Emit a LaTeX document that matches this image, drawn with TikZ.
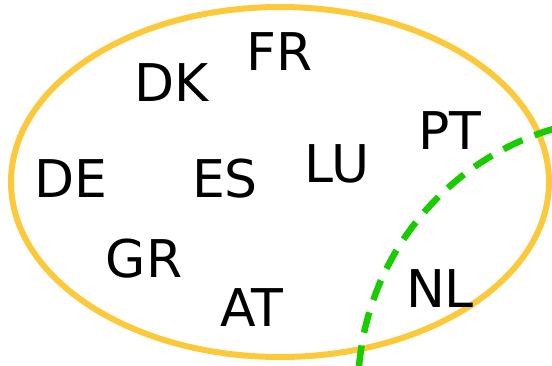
\documentclass[tikz,border=0pt]{standalone}
\usepackage{fontspec}
\setmainfont{DejaVu Sans}
\definecolor{ellcol}{HTML}{FBC93A}
\definecolor{grn}{HTML}{19CC00}
\begin{document}
\begin{tikzpicture}[x=1pt,y=-1pt,
  lbl/.style={anchor=base,inner sep=0pt,font=\fontsize{52}{62}\selectfont}]
\useasboundingbox (0,0) rectangle (552,365);
\begin{scope}
\clip (0,0) rectangle (552,365);
\draw[ellcol,line width=6pt] (280,182) ellipse [x radius=269, y radius=175];
\draw[grn,line width=6.5pt,dash pattern=on 21pt off 13pt] (630,390) ++(185:272) arc[start angle=185,end angle=272,radius=272];
\end{scope}
\node[lbl] (fr) at (280,70) {FR};
\node[lbl] (dk) at (172,101) {DK};
\node[lbl] (pt) at (450,149) {PT};
\node[lbl] (de) at (71,197) {DE};
\node[lbl] (es) at (225,197) {ES};
\node[lbl] (lu) at (337,182) {LU};
\node[lbl] (gr) at (144,277) {GR};
\node[lbl] (at) at (252,326) {AT};
\node[lbl] (nl) at (440,307) {NL};
\end{tikzpicture}
\end{document}
